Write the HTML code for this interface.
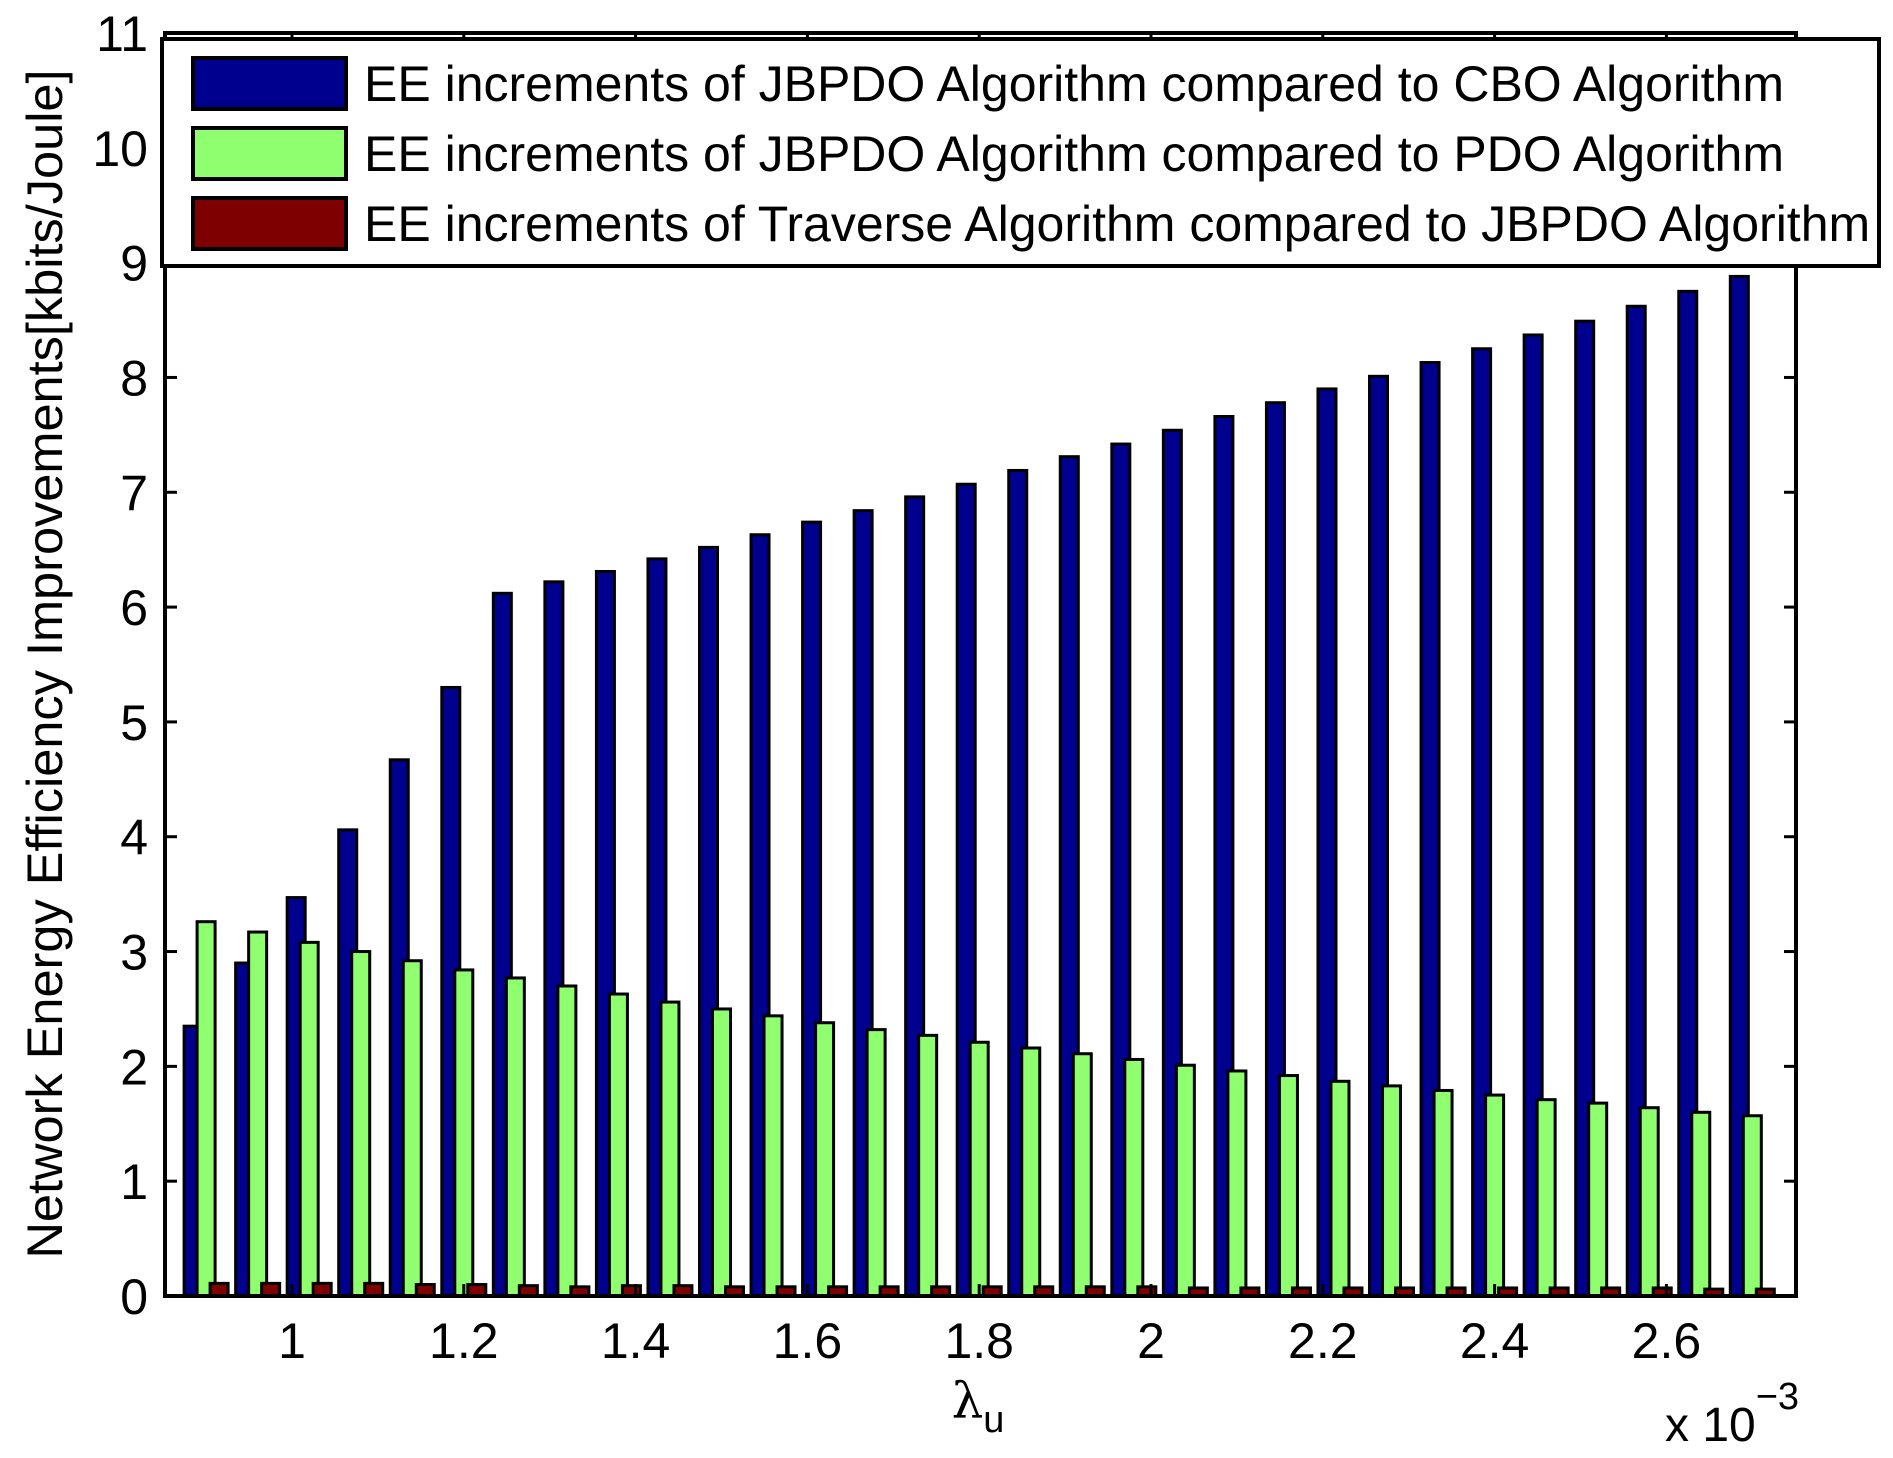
<!DOCTYPE html>
<html><head><meta charset="utf-8"><style>
body{margin:0;background:#fff}
svg text{font-family:"Liberation Sans",sans-serif;fill:#000}
</style></head><body>
<svg id="chart" width="1893" height="1453" xmlns="http://www.w3.org/2000/svg">
<rect width="1893" height="1453" fill="#fff"/>
<g id="bars"></g>
<g id="axes"></g>
<text x="62" y="664" font-size="50.5" text-anchor="middle" transform="rotate(-90 62 664)">Network Energy Efficiency Improvements[kbits/Joule]</text>
<text x="978" y="1418" font-size="50" text-anchor="middle"><tspan font-family="DejaVu Serif,serif">λ</tspan><tspan font-size="38" dy="14">u</tspan></text>
<text x="1665" y="1441" font-size="48">x 10<tspan font-size="38" dy="-32">−3</tspan></text>
<g>
<rect x="162" y="39" width="1717" height="227" fill="#fff" stroke="#000" stroke-width="4"/>
<rect x="193" y="58" width="153" height="51" fill="#00008f" stroke="#000" stroke-width="4"/>
<rect x="193" y="128" width="153" height="51" fill="#8fff6f" stroke="#000" stroke-width="4"/>
<rect x="193" y="198" width="153" height="51" fill="#7f0000" stroke="#000" stroke-width="4"/>
<text x="364" y="101" font-size="50">EE increments of JBPDO Algorithm compared to CBO Algorithm</text>
<text x="364" y="171" font-size="50">EE increments of JBPDO Algorithm compared to PDO Algorithm</text>
<text x="364" y="241" font-size="50">EE increments of Traverse Algorithm compared to JBPDO Algorithm</text>
</g>
</svg>
<script>
const categories=[0.90,0.96,1.02,1.08,1.14,1.20,1.26,1.32,1.38,1.44,1.50,1.56,1.62,1.68,1.74,1.80,1.86,1.92,1.98,2.04,2.10,2.16,2.22,2.28,2.34,2.40,2.46,2.52,2.58,2.64,2.70];
const cboValues=[2.35,2.9,3.47,4.06,4.67,5.3,6.12,6.22,6.31,6.42,6.52,6.63,6.74,6.84,6.96,7.07,7.19,7.31,7.42,7.54,7.66,7.78,7.9,8.01,8.13,8.25,8.37,8.49,8.62,8.75,8.88];
const pdoValues=[3.26,3.17,3.08,3.0,2.92,2.84,2.77,2.7,2.63,2.56,2.5,2.44,2.38,2.32,2.27,2.21,2.16,2.11,2.06,2.01,1.96,1.92,1.87,1.83,1.79,1.75,1.71,1.68,1.64,1.6,1.57];
const traverseValues=[0.11,0.11,0.11,0.11,0.10,0.10,0.09,0.08,0.09,0.09,0.08,0.08,0.08,0.08,0.08,0.08,0.08,0.08,0.08,0.07,0.07,0.07,0.07,0.07,0.07,0.07,0.07,0.07,0.07,0.06,0.06];
const xTicks=[1,1.2,1.4,1.6,1.8,2,2.2,2.4,2.6];
const xTickLabels=["1","1.2","1.4","1.6","1.8","2","2.2","2.4","2.6"];
const yTicks=[0,1,2,3,4,5,6,7,8,9,10,11];

const L=165,R=1796,T=33,B=1296;
const xs=v=>292+(v-1)*859;
const ys=v=>B-(v/11)*(B-T);
const NS="http://www.w3.org/2000/svg";
const bars=document.getElementById('bars');
const axes=document.getElementById('axes');
function mk(tag,attrs,parent){const e=document.createElementNS(NS,tag);for(const k in attrs)e.setAttribute(k,attrs[k]);parent.appendChild(e);return e;}
const series=[[cboValues,'#00008f',-13,'bar-cbo'],[pdoValues,'#8fff6f',0,'bar-pdo'],[traverseValues,'#7f0000',13,'bar-traverse']];
const bw=18;
series.forEach(([vals,col,off,name])=>{
  vals.forEach((v,i)=>{
    const cx=xs(categories[i])+off;
    const r=mk('rect',{x:cx-bw/2,y:ys(v),width:bw,height:B-ys(v),fill:col,stroke:'#000','stroke-width':3},bars);
    
    
  });
});
mk('rect',{x:L,y:T,width:R-L,height:B-T,fill:'none',stroke:'#000','stroke-width':4},axes);
yTicks.forEach(t=>{
  const y=ys(t);
  mk('line',{x1:L,x2:L+12,y1:y,y2:y,stroke:'#000','stroke-width':3},axes);
  mk('line',{x1:R,x2:R-12,y1:y,y2:y,stroke:'#000','stroke-width':3},axes);
  const tx=mk('text',{x:148,y:y+18,'font-size':50,'text-anchor':'end'},axes);
  tx.textContent=t;
  
  
});
xTicks.forEach((t,i)=>{
  const x=xs(t);
  mk('line',{x1:x,x2:x,y1:B,y2:B-12,stroke:'#000','stroke-width':3},axes);
  mk('line',{x1:x,x2:x,y1:T,y2:T+12,stroke:'#000','stroke-width':3},axes);
  const tx=mk('text',{x:x,y:1358,'font-size':50,'text-anchor':'middle'},axes);
  tx.textContent=xTickLabels[i];
  
  
});
</script>
</body></html>
